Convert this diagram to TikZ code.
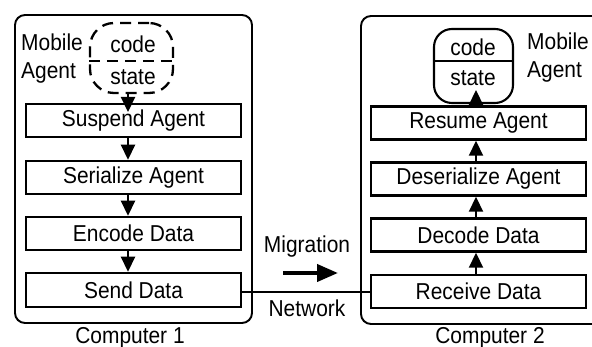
\documentclass[tikz,border=0pt]{standalone}
\usepackage{fontspec}
\setmainfont{Liberation Sans}[FakeStretch=0.91]
\usetikzlibrary{arrows.meta}
\begin{document}
\begin{tikzpicture}[x=1pt,y=-1pt,
  every node/.style={font=\fontsize{23}{28}\selectfont, inner sep=0pt},
  stepbox/.style={draw, line width=2.5pt, minimum width=215pt, minimum height=33pt},
  hostbox/.style={draw, line width=1.9pt, rounded corners=10pt},
  arr/.style={line width=2.2pt, -{Triangle[length=15pt,width=14pt]}},
  wire/.style={line width=2.5pt}]
\useasboundingbox (0,0) rectangle (592,347);

% computers
\draw[hostbox] (15,15) rectangle (252,323);
\draw[hostbox] (361,16) rectangle (610,324);

% sender side
\node[stepbox] (susp) at (133.5,120.5) {Suspend Agent};
\node[stepbox] (ser)  at (133.5,177.5) {Serialize Agent};
\node[stepbox] (enc)  at (133.5,233.5) {Encode Data};
\node[stepbox, minimum height=34pt] (send) at (133.5,290) {Send Data};

% receiver side
\node[stepbox] (res)  at (478.5,123) {Resume Agent};
\node[stepbox] (des)  at (478.5,179) {Deserialize Agent};
\node[stepbox] (dec)  at (478.5,235) {Decode Data};
\node[stepbox] (rcv)  at (478.5,291.5) {Receive Data};

% mobile agent before migration (dashed)
\node[draw, dash pattern=on 11pt off 7pt, line width=2.3pt, rounded corners=24pt,
      minimum width=83pt, minimum height=70pt] (agL) at (131.5,58) {};
\draw[line width=2.3pt, dash pattern=on 11pt off 7pt] (agL.west |- 0,61) -- (agL.east |- 0,61);
\node (codeL)  at (133,44) {code};
\node (stateL) at (133,77) {state};
\node[anchor=west, align=left] (mobL) at (21,59) {Mobile\\Agent};

% mobile agent after migration
\node[draw, line width=2.1pt, rounded corners=18pt,
      minimum width=79pt, minimum height=74pt] (agR) at (473.5,66) {};
\draw[line width=2.1pt] (agR.west |- 0,61) -- (agR.east |- 0,61);
\node (codeR)  at (473,47) {code};
\node (stateR) at (473,78) {state};
\node[anchor=west, align=left] (mobR) at (527,58) {Mobile\\Agent};

% processing flow
\coordinate (xl) at (128,0);
\coordinate (xr) at (476,0);
\coordinate (tipL) at (128,112);
\coordinate (tipR) at (476,90);
\draw[arr] (agL.south -| xl) -- (tipL);
\draw[arr] (susp.south -| xl) -- (ser.north -| xl);
\draw[arr] (ser.south -| xl) -- (enc.north -| xl);
\draw[arr] (enc.south -| xl) -- (send.north -| xl);
\draw[arr] (rcv.north -| xr) -- (dec.south -| xr);
\draw[arr] (dec.north -| xr) -- (des.south -| xr);
\draw[arr] (des.north -| xr) -- (res.south -| xr);
\draw[arr] (res.north -| xr) -- (tipR);

% network link
\draw[wire] (send.east |- 0,292) -- (rcv.west |- 0,292);
\node (mig) at (307,247) {Migration};
\coordinate (m1) at (283,273);
\coordinate (m2) at (338,273);
\draw[line width=4pt, -{Triangle[length=21pt,width=17pt]}] (m1) -- (m2);
\node (net) at (307,308) {Network};

% labels
\node (c1) at (130,338) {Computer 1};
\node (c2) at (490,338) {Computer 2};
\end{tikzpicture}
\end{document}
